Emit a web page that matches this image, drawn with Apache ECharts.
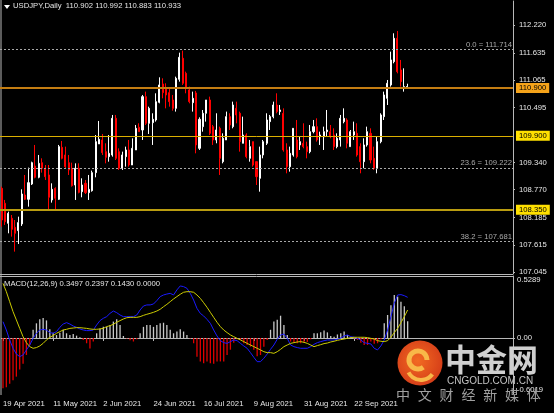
<!DOCTYPE html>
<html><head><meta charset="utf-8">
<script src="https://cdn.jsdelivr.net/npm/echarts@6/dist/echarts.min.js"></script>
<style>html,body{margin:0;padding:0;background:#000;}#c{width:554px;height:413px;}</style>
</head><body><div id="c"></div>
<script>
// [open, close, low, high]
const candles = [
[108.799,108.135,107.996,108.834],[108.485,108.100,108.031,108.555],[108.066,108.275,107.856,108.310],[108.170,107.940,107.786,108.240],
[107.982,107.856,107.472,108.135],[107.912,108.080,107.632,108.205],[108.052,108.680,108.010,108.778],[108.659,108.569,108.555,109.079],
[108.569,108.918,108.415,109.233],[108.890,109.337,108.869,109.358],[109.267,109.030,109.009,109.708],[109.030,109.323,109.009,109.498],
[109.337,109.219,109.128,109.428],[109.219,109.044,108.974,109.288],[109.079,108.611,108.331,109.288],[108.555,108.778,108.499,108.904],
[108.799,108.590,108.359,108.820],[108.569,109.673,108.555,109.708],[109.659,109.428,109.407,109.792],[109.498,109.253,109.219,109.673],
[109.337,109.184,109.079,109.498],[109.219,108.855,108.834,109.337],[108.869,109.219,108.555,109.323],[109.219,108.715,108.694,109.323],
[108.729,108.869,108.611,109.009],[108.904,108.708,108.680,108.974],[108.708,108.778,108.555,109.079],[108.750,109.128,108.729,109.170],
[109.128,109.778,109.030,109.917],[109.729,109.827,109.729,110.211],[109.813,109.547,109.498,109.938],[109.568,109.449,109.323,109.743],
[109.463,109.533,109.358,109.917],[109.498,110.267,109.463,110.337],[110.267,109.428,109.393,110.337],[109.568,109.219,109.184,109.638],
[109.219,109.498,109.184,109.568],[109.463,109.603,109.253,109.673],[109.603,109.288,109.253,109.813],[109.288,109.638,109.288,109.848],
[109.603,110.057,109.603,110.127],[110.078,109.987,109.987,110.162],[110.022,110.721,109.813,110.756],[110.721,110.162,110.127,110.826],
[110.162,110.476,109.938,110.511],[110.176,110.246,109.708,110.372],[110.232,110.616,110.197,110.791],[110.602,110.966,110.581,111.126],
[110.987,110.805,110.686,111.105],[110.896,110.756,110.476,111.001],[110.805,110.616,110.511,110.896],[110.651,110.476,110.427,110.756],
[110.476,111.105,110.407,111.140],[111.084,111.546,111.035,111.643],[111.525,111.001,110.966,111.685],[111.210,110.896,110.791,111.245],
[110.861,110.616,110.581,110.931],[110.595,110.686,110.407,110.826],[110.798,109.708,109.533,110.840],[109.638,110.246,109.603,110.288],
[110.092,110.372,109.987,110.441],[110.372,110.651,110.197,110.651],[110.651,109.952,109.917,110.721],[110.092,109.813,109.708,110.127],
[109.813,110.022,109.743,110.372],[110.057,109.428,109.079,110.092],[109.358,109.848,109.323,109.952],[109.813,110.302,109.813,110.407],
[110.302,110.127,110.022,110.372],[110.092,110.546,110.057,110.616],[110.476,110.337,110.162,110.616],[110.372,109.778,109.568,110.407],
[109.743,109.917,109.743,110.302],[109.917,109.463,109.428,109.952],[109.428,109.673,109.358,109.813],[109.778,109.288,109.253,109.778],
[109.358,109.044,108.869,109.358],[109.009,109.498,108.729,109.673],[109.498,109.778,109.428,109.813],[109.743,110.232,109.708,110.372],
[110.197,110.302,110.022,110.337],[110.302,110.546,110.267,110.616],[110.546,110.407,110.372,110.791],[110.407,110.441,110.337,110.546],
[110.372,109.603,109.568,110.476],[109.603,109.253,109.114,109.743],[109.253,109.533,109.149,109.673],[109.498,110.057,109.463,110.057],
[109.813,109.463,109.428,110.232],[109.708,109.778,109.603,109.882],[109.743,109.673,109.638,110.162],[109.673,109.568,109.428,109.778],
[109.568,109.987,109.533,110.127],[109.987,110.092,109.952,110.232],[110.092,109.813,109.778,110.267],[109.882,109.917,109.708,109.987],
[109.882,109.987,109.603,110.092],[109.987,110.022,109.882,110.441],[109.987,109.882,109.848,110.127],[109.917,109.673,109.603,110.057],
[109.673,109.848,109.638,109.952],[109.813,110.267,109.673,110.337],[110.197,110.267,110.162,110.476],[110.232,109.743,109.638,110.267],
[109.673,109.987,109.673,110.022],[109.917,109.987,109.813,110.197],[109.952,109.498,109.463,110.162],[109.673,109.358,109.114,109.743],
[109.358,109.708,109.219,109.848],[109.708,109.987,109.673,110.092],[109.952,109.393,109.323,110.057],[109.428,109.219,109.184,109.673],
[109.219,109.778,109.114,109.882],[109.778,110.337,109.743,110.372],[110.302,110.756,110.232,110.826],[110.686,111.001,110.546,111.070],
[110.966,111.490,110.931,111.664],[111.455,111.944,111.420,112.049],[111.944,111.245,111.210,112.098],[111.280,111.035,110.931,111.490],
[110.896,110.931,110.826,111.315],[110.902,110.933,110.883,110.992]
];
const macdHist = [
-0.43,-0.42,-0.39,-0.36,-0.33,-0.27,-0.22,-0.145,-0.06,0.07,
0.125,0.16,0.17,0.15,0.075,0.045,0.025,0.045,0.07,0.04,
0.025,0.035,0.02,0.006,-0.017,-0.045,-0.09,-0.03,0.04,0.08,
0.095,0.095,0.11,0.14,0.16,0.11,0.017,-0.005,-0.02,-0.03,
-0.01,0.04,0.095,0.11,0.11,0.095,0.11,0.125,0.13,0.11,
0.07,0.04,0.055,0.075,0.055,0.025,-0.005,-0.045,-0.16,-0.20,
-0.215,-0.20,-0.215,-0.22,-0.20,-0.20,-0.20,-0.145,-0.10,-0.04,
-0.01,-0.017,-0.045,-0.06,-0.074,-0.10,-0.155,-0.145,-0.074,-0.017,
0.07,0.14,0.155,0.19,0.11,0.025,-0.03,-0.04,-0.045,-0.045,
-0.04,-0.035,-0.01,0.04,0.04,0.048,0.063,0.048,0.017,0.011,
0.03,0.04,0.055,0.025,0.006,-0.005,-0.017,-0.04,-0.06,-0.06,
-0.03,-0.05,-0.045,-0.01,0.125,0.196,0.28,0.367,0.353,0.31,
0.27,0.143];
const macdLine = [
0.139,0.068,-0.017,-0.088,-0.137,-0.159,-0.145,-0.102,-0.06,-0.003,
0.04,0.068,0.074,0.068,0.046,0.04,0.054,0.091,0.119,0.131,
0.119,0.102,0.091,0.077,0.068,0.063,0.063,0.068,0.111,0.148,
0.168,0.182,0.21,0.23,0.216,0.196,0.182,0.182,0.182,0.182,
0.196,0.239,0.273,0.282,0.282,0.29,0.319,0.353,0.367,0.375,
0.381,0.367,0.41,0.444,0.438,0.424,0.381,0.324,0.253,0.21,
0.188,0.159,0.125,0.068,0.017,-0.023,-0.04,-0.046,-0.031,-0.017,
-0.023,-0.046,-0.068,-0.088,-0.125,-0.165,-0.202,-0.202,-0.173,-0.137,
-0.097,-0.06,-0.011,0.026,0.034,-0.003,-0.06,-0.074,-0.082,-0.088,
-0.088,-0.088,-0.074,-0.054,-0.04,-0.031,-0.023,-0.017,-0.017,-0.017,
-0.011,0,0.017,0.026,0.011,0.006,-0.003,-0.017,-0.04,-0.046,
-0.051,-0.088,-0.102,-0.068,-0.017,0.068,0.182,0.296,0.367,0.37,
0.361,0.347];
const signalLine = [
0.466,0.395,0.31,0.225,0.154,0.082,0.011,-0.04,-0.074,-0.088,
-0.082,-0.068,-0.046,-0.017,0.006,0.02,0.04,0.054,0.068,0.074,
0.082,0.085,0.088,0.088,0.085,0.082,0.077,0.074,0.074,0.077,
0.082,0.097,0.105,0.117,0.134,0.148,0.162,0.173,0.176,0.176,
0.176,0.182,0.193,0.202,0.21,0.219,0.23,0.245,0.267,0.287,
0.31,0.333,0.353,0.373,0.39,0.395,0.395,0.39,0.367,0.338,
0.301,0.262,0.219,0.176,0.134,0.097,0.068,0.046,0.026,0.011,
-0.003,-0.017,-0.031,-0.046,-0.06,-0.074,-0.088,-0.102,-0.117,-0.125,
-0.125,-0.131,-0.117,-0.097,-0.074,-0.06,-0.046,-0.04,-0.034,-0.031,
-0.037,-0.046,-0.06,-0.074,-0.065,-0.057,-0.048,-0.043,-0.034,-0.028,
-0.02,-0.014,-0.009,-0.003,0.003,0.006,0.006,0.006,0.006,0.003,
-0.003,-0.009,-0.023,-0.028,-0.031,-0.023,0.006,0.046,0.082,0.131,
0.182,0.239];
const priceTicks = [112.220,111.635,111.065,110.495,109.340,108.770,108.185,107.615,107.045];
const macdTickValues = [0.5289, 0, -0.478];
const macdTickLabels = ['0.5289','0.00','-0.6019'];
const dateLabels = ['19 Apr 2021','11 May 2021','2 Jun 2021','24 Jun 2021','16 Jul 2021','9 Aug 2021','31 Aug 2021','22 Sep 2021'];
const dateLabelIndex = [0,15,30,45,60,75,90,105];
const levelPrices = [110.900, 109.900, 108.350];
const fibNames = ['0.0','23.6','38.2'];
const fibPrices = [111.714, 109.222, 107.681];
const titleText = 'USDJPY,Daily  110.902 110.992 110.883 110.933';
const macdTitle = 'MACD(12,26,9) 0.3497 0.2397 0.1430 0.0000';
const watermarkChars = ['中','文','财','经','新','媒','体'];
const slotCount = 153;

const slots = [];
for (let i = 0; i < slotCount; i++) slots.push(String(i));
const FONT = 'Liberation Sans';
const FS = 7.7;
const TXT = '#e6e6e6';
const FRAME = '#b8b8b8';

const levelStyles = [
  {line:'#c47d12', width:2, box:'#f5a31a'},
  {line:'#dcb000', width:1, box:'#ffe000'},
  {line:'#b99c10', width:2, box:'#ffe000'}
];
const markData = [];
levelPrices.forEach((p, k) => {
  markData.push({
    yAxis: p,
    lineStyle: {color: levelStyles[k].line, width: levelStyles[k].width, type: 'solid'},
    label: {show: true, position: 'end', formatter: p.toFixed(3), backgroundColor: levelStyles[k].box,
      color: '#000', fontFamily: FONT, fontSize: FS, padding: [1, 3, 0, 3], distance: 3, lineHeight: 9}
  });
});
fibPrices.forEach((p, k) => {
  markData.push({
    yAxis: p,
    lineStyle: {color: '#a8a8a8', width: 1, type: [2, 2]},
    label: {show: true, position: 'insideEndTop', formatter: fibNames[k] + ' = ' + p.toFixed(3),
      color: '#a8a8a8', fontFamily: FONT, fontSize: FS, distance: 1}
  });
});

const graphics = [
  {type: 'polygon', shape: {points: [[4, 5], [10, 5], [7, 9]]}, style: {fill: '#ffffff'}},
  {type: 'line', shape: {x1: 1, y1: 0, x2: 1, y2: 395}, style: {stroke: FRAME, lineWidth: 1}},
  {type: 'line', shape: {x1: 0, y1: 274.5, x2: 513, y2: 274.5}, style: {stroke: FRAME, lineWidth: 1}},
  {type: 'line', shape: {x1: 0, y1: 276.5, x2: 513, y2: 276.5}, style: {stroke: FRAME, lineWidth: 1}},
  {type: 'circle', z: 100, shape: {cx: 420, cy: 363, r: 22.5},
    style: {fill: new echarts.graphic.RadialGradient(0.45, 0.45, 0.6, [{offset: 0, color: '#f26a22'}, {offset: 1, color: '#d43c18'}])}},
  {type: 'arc', z: 101, shape: {cx: 418, cy: 360, r: 9, startAngle: Math.PI * 0.3, endAngle: Math.PI * 2.0},
    style: {stroke: '#f8b848', lineWidth: 5, fill: null}},
  {type: 'arc', z: 101, shape: {cx: 421, cy: 366, r: 14, startAngle: Math.PI * 0.2, endAngle: Math.PI * 0.85},
    style: {stroke: '#f8b848', lineWidth: 4, fill: null}},
  {type: 'text', z: 100, style: {text: '中金网', x: 445, y: 359, verticalAlign: 'middle', fill: '#cfcfcf',
    font: 'bold 31px "Noto Sans CJK SC"'}},
  {type: 'text', z: 100, style: {text: 'CNGOLD.COM.CN', x: 447, y: 381, verticalAlign: 'middle', fill: '#c4c4c4',
    font: '10px "Liberation Sans"'}}
];
watermarkChars.forEach((ch, k) => {
  graphics.push({type: 'text', z: 100, style: {text: ch, x: 396 + k * 21.8, y: 395, verticalAlign: 'middle', fill: '#a0a0a0',
    font: '14px "Noto Sans CJK SC"'}});
});

const chart = echarts.init(document.getElementById('c'), null, {renderer: 'canvas'});
chart.setOption({
  backgroundColor: '#000',
  animation: false,
  title: [
    {text: titleText, left: 13, top: 2, padding: 0, textStyle: {color: TXT, fontFamily: FONT, fontSize: FS, fontWeight: 'normal'}},
    {text: macdTitle, left: 4, top: 280, padding: 0, textStyle: {color: TXT, fontFamily: FONT, fontSize: FS, fontWeight: 'normal'}}
  ],
  grid: [
    {left: 0, top: 1, width: 513, height: 273},
    {left: 0, top: 276, width: 513, height: 118}
  ],
  xAxis: [
    {type: 'category', gridIndex: 0, data: slots, boundaryGap: true,
      axisLine: {show: false}, axisTick: {show: false}, axisLabel: {show: false}, splitLine: {show: false}},
    {type: 'category', gridIndex: 1, data: slots, boundaryGap: true,
      axisLine: {show: true, lineStyle: {color: FRAME, width: 1}},
      axisTick: {show: true, alignWithLabel: true, length: 3, interval: (i) => dateLabelIndex.indexOf(i) >= 0, lineStyle: {color: FRAME}},
      axisLabel: {show: true, interval: (i) => dateLabelIndex.indexOf(i) >= 0, align: 'left', margin: 6,
        formatter: (v) => { const k = dateLabelIndex.indexOf(Number(v)); return k >= 0 ? dateLabels[k] : ''; },
        color: TXT, fontFamily: FONT, fontSize: FS},
      splitLine: {show: false}}
  ],
  yAxis: [
    {type: 'value', gridIndex: 0, position: 'right', min: 107.003, max: 112.726, scale: true,
      axisLine: {show: true, lineStyle: {color: FRAME, width: 1}},
      axisTick: {show: true, length: 2, customValues: priceTicks, lineStyle: {color: FRAME}},
      axisLabel: {show: true, customValues: priceTicks, formatter: (v) => v.toFixed(3), margin: 6,
        color: TXT, fontFamily: FONT, fontSize: FS},
      splitLine: {show: false}},
    {type: 'value', gridIndex: 1, position: 'right', min: -0.478, max: 0.5289,
      axisLine: {show: true, lineStyle: {color: FRAME, width: 1}},
      axisTick: {show: true, length: 2, customValues: [0], lineStyle: {color: FRAME}},
      axisLabel: {show: true, customValues: macdTickValues, margin: 4,
        verticalAlignMaxLabel: 'bottom', verticalAlignMinLabel: 'top',
        formatter: (v) => { const k = macdTickValues.indexOf(v); return k >= 0 ? macdTickLabels[k] : ''; },
        color: TXT, fontFamily: FONT, fontSize: FS},
      splitLine: {show: false}}
  ],
  series: [
    {type: 'candlestick', xAxisIndex: 0, yAxisIndex: 0, data: candles, barWidth: 1.6,
      itemStyle: {color: '#ffffff', color0: '#ff0000', borderColor: '#ffffff', borderColor0: '#ff0000', borderWidth: 1},
      markLine: {symbol: ['none', 'none'], silent: true, animation: false, data: markData}},
    {type: 'bar', xAxisIndex: 1, yAxisIndex: 1, data: macdHist, barWidth: 1.3,
      itemStyle: {color: (p) => p.value >= 0 ? '#c8c8c8' : '#e00000'}},
    {type: 'line', xAxisIndex: 1, yAxisIndex: 1, data: macdLine, showSymbol: false, symbol: 'none',
      lineStyle: {color: '#1a1aff', width: 1}},
    {type: 'line', xAxisIndex: 1, yAxisIndex: 1, data: signalLine, showSymbol: false, symbol: 'none',
      lineStyle: {color: '#cccc00', width: 1}}
  ],
  graphic: graphics
});
</script></body></html>
